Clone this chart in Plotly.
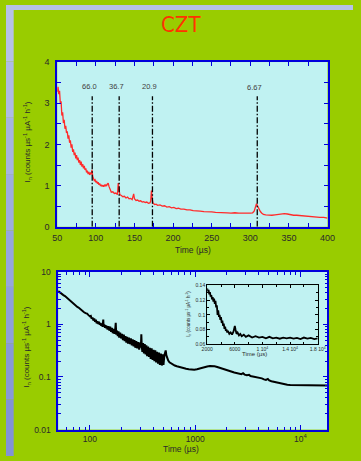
import plotly.graph_objects as go

# ---------------- data ----------------
# top panel (linear): time in us, I_n
top_t = [50, 51, 52, 53, 54, 55, 56, 57, 58, 59, 60, 61, 62, 63, 64, 65, 66, 67, 68, 69,
         70, 71, 72, 73, 74, 75, 76, 77, 78, 79, 80, 81, 82, 83, 84, 85, 86, 87, 88, 89,
         90, 91, 92, 93, 94, 95, 96, 97, 98, 99, 100, 101, 102, 103, 104, 105, 106, 107, 108, 109,
         110, 111, 112, 113, 114, 115, 116, 117, 118, 119, 120, 122, 124, 126, 128, 129, 130, 131, 133, 135,
         137, 139, 141, 143, 145, 147, 149, 150, 152, 154, 156, 158, 160, 162, 164, 166, 168, 170, 171, 172,
         173, 174, 176, 178, 180, 183, 186, 189, 192, 195, 198, 201, 204, 207, 210, 214, 218, 222, 226, 230,
         235, 240, 245, 250, 255, 260, 265, 270, 275, 280, 285, 290, 295, 300, 303, 305, 307, 308, 309, 311,
         313, 315, 317, 320, 324, 328, 332, 336, 340, 344, 348, 352, 356, 360, 365, 370, 375, 380, 385, 390,
         395, 400]
top_v = [3.28, 3.40, 3.22, 3.30, 3.00, 3.05, 2.70, 2.78, 2.52, 2.60, 2.38, 2.45, 2.28, 2.32, 2.14, 2.22, 2.04, 2.10, 1.92, 2.00,
         1.82, 1.88, 1.74, 1.80, 1.66, 1.74, 1.62, 1.68, 1.56, 1.62, 1.50, 1.58, 1.46, 1.52, 1.42, 1.48, 1.38, 1.42, 1.32, 1.36,
         1.28, 1.33, 1.26, 1.30, 1.28, 1.38, 1.22, 1.16, 1.12, 1.14, 1.08, 1.11, 1.05, 1.08, 1.02, 1.05, 0.99, 1.02, 0.98, 1.01,
         0.97, 1.01, 0.99, 1.02, 1.00, 1.04, 1.06, 0.98, 0.92, 0.88, 0.84, 0.85, 0.81, 0.82, 0.78, 1.06, 0.86, 0.78, 0.76, 0.73,
         0.74, 0.70, 0.72, 0.68, 0.69, 0.66, 0.80, 0.68, 0.64, 0.65, 0.62, 0.63, 0.60, 0.61, 0.59, 0.60, 0.57, 0.58, 0.62, 0.88,
         0.68, 0.58, 0.54, 0.55, 0.52, 0.53, 0.50, 0.51, 0.48, 0.49, 0.46, 0.47, 0.44, 0.45, 0.43, 0.43, 0.41, 0.41, 0.39, 0.39,
         0.38, 0.37, 0.37, 0.36, 0.35, 0.35, 0.34, 0.34, 0.33, 0.34, 0.33, 0.33, 0.32, 0.33, 0.34, 0.38, 0.50, 0.56, 0.52, 0.44,
         0.37, 0.33, 0.30, 0.29, 0.28, 0.28, 0.29, 0.30, 0.31, 0.32, 0.31, 0.29, 0.28, 0.28, 0.27, 0.26, 0.25, 0.25, 0.24, 0.23,
         0.23, 0.21]

peak_times = [95.3, 130.2, 173.3, 309.0]
peak_labels = ["66.0", "36.7", "20.9", "6.67"]
peak_line_top = 3.17
peak_label_y = [3.41, 3.41, 3.41, 3.38]

# bottom panel (log-log)
bot_t = [50, 52, 54, 56, 58, 60, 62, 64, 66, 68, 70, 73, 76, 79, 82, 85, 88, 91, 94, 97, 100,
         102, 104, 106, 108, 110, 112, 114, 116, 118, 120, 122, 124, 126, 128, 130, 132, 134, 135, 137, 139,
         141, 143, 145, 147, 150,
         153, 156, 159, 162, 165, 168, 171, 174, 176, 178, 181, 184, 187, 190, 194, 198, 202, 206, 210, 214,
         218, 222, 226, 230, 235, 240, 245, 250, 255, 260, 265, 270, 276, 282, 288, 294, 300, 305, 308, 311,
         315, 320, 326, 332, 338, 344, 350, 357, 364, 371, 378, 386, 394, 402, 410, 418, 426, 435, 444, 453,
         462, 472, 482, 492, 500, 510, 518, 525, 532, 540,
         555, 570, 590, 610, 640, 670, 700, 740, 780, 820, 870, 920, 980, 1040, 1100, 1160, 1230, 1300, 1380, 1450,
         1530, 1620, 1720, 1830, 1950, 2080, 2200, 2350, 2500, 2650, 2750, 2850, 2950, 3100, 3250, 3350, 3500, 3700,
         3900, 4100, 4300, 4500, 4700, 4900, 5050, 5300, 5600, 5900, 6200, 6600, 7000, 7500, 8000, 9000, 10000,
         11000, 12500, 14000, 15500, 17000, 18000]
bot_v = [4.3, 4.0, 3.85, 3.6, 3.45, 3.25, 3.0, 2.8, 2.7, 2.55, 2.45, 2.3, 2.15, 2.05, 1.9, 1.85, 1.7, 1.64, 1.6, 1.5, 1.42,
         1.45, 1.28, 1.35, 1.18, 1.3, 1.12, 1.22, 1.05, 1.15, 1.02, 1.12, 0.98, 1.06, 0.94, 1.04, 0.9, 1.23, 0.92, 1.0, 0.86,
         0.96, 0.84, 0.94, 0.8, 0.92,
         0.76, 0.9, 0.72, 0.86, 0.68, 0.82, 0.66, 0.8, 1.07, 0.64, 0.76, 0.6, 0.74, 0.56, 0.7, 0.54, 0.66, 0.5, 0.64, 0.48,
         0.6, 0.45, 0.58, 0.43, 0.56, 0.42, 0.54, 0.4, 0.52, 0.38, 0.5, 0.36, 0.48, 0.35, 0.46, 0.33, 0.45, 0.36, 0.65, 0.38,
         0.3, 0.44, 0.28, 0.42, 0.27, 0.4, 0.25, 0.38, 0.24, 0.36, 0.22, 0.35, 0.21, 0.33, 0.2, 0.32, 0.19, 0.3, 0.18, 0.29,
         0.17, 0.28, 0.165, 0.27, 0.17, 0.26, 0.28, 0.32, 0.26, 0.23,
         0.205, 0.19, 0.18, 0.172, 0.165, 0.16, 0.155, 0.152, 0.148, 0.143, 0.14, 0.138, 0.137, 0.14, 0.145, 0.15, 0.155, 0.158, 0.161, 0.162,
         0.16, 0.155, 0.15, 0.144, 0.138, 0.132, 0.127, 0.122, 0.118, 0.115, 0.113, 0.118, 0.111, 0.108, 0.11, 0.104, 0.102, 0.1,
         0.1, 0.097, 0.094, 0.09, 0.088, 0.092, 0.086, 0.083, 0.081, 0.078, 0.076, 0.074, 0.072, 0.071, 0.0705, 0.07, 0.0695,
         0.0695, 0.069, 0.069, 0.069, 0.0685, 0.0685]

# inset (linear)
ins_t = [2000, 2100, 2200, 2300, 2400, 2500, 2600, 2700, 2800, 2900, 3000, 3100, 3200, 3300, 3400, 3500, 3600, 3700, 3800, 3900,
         4000, 4100, 4200, 4300, 4400, 4500, 4600, 4700, 4800, 4900, 5000, 5200, 5400, 5600, 5800, 6000, 6100, 6250, 6400, 6600,
         6800, 7000, 7300, 7600, 8000, 8500, 9000, 9500, 10000, 10500, 11000, 11500, 12000, 12500, 13000, 13500, 14000, 14500, 15000, 15500,
         16000, 16500, 17000, 17500, 18000]
ins_v = [0.136, 0.132, 0.134, 0.128, 0.131, 0.125, 0.127, 0.121, 0.124, 0.118, 0.122, 0.115, 0.119, 0.110, 0.113, 0.100, 0.106, 0.097, 0.100, 0.093,
         0.097, 0.089, 0.092, 0.085, 0.088, 0.081, 0.084, 0.078, 0.080, 0.076, 0.078, 0.074, 0.076, 0.073, 0.077, 0.085, 0.080, 0.074, 0.076, 0.072,
         0.074, 0.071, 0.073, 0.070, 0.072, 0.069, 0.071, 0.069, 0.070, 0.068, 0.070, 0.068, 0.069, 0.0675, 0.069, 0.068, 0.069, 0.0675, 0.0685, 0.067,
         0.069, 0.0675, 0.0685, 0.067, 0.068]

top_xticks = [50, 100, 150, 200, 250, 300, 350, 400]
top_yticks = [0, 1, 2, 3, 4]
bot_xticks = [100, 1000, 10000]
bot_xtext = ["100", "1000", "10<sup>4</sup>"]
bot_yticks = [0.01, 0.1, 1, 10]
bot_ytext = ["0.01", "0.1", "1", "10"]
ins_xticks = [2000, 6000, 10000, 14000, 18000]
ins_xtext = ["2000", "6000", "1 10<sup>4</sup>", "1.4 10<sup>4</sup>", "1.8 10<sup>4</sup>"]
ins_yticks = [0.06, 0.08, 0.1, 0.12, 0.14]
ins_ytext = ["0.06", "0.08", "0.1", "0.12", "0.14"]

# ---------------- figure ----------------
W, H = 361, 461
def px_x(p): return p / W
def px_y(p): return 1 - p / H

FONT = "Arial, Liberation Sans, sans-serif"
BLUE = "#0000dd"
TXT = "#2a2a2a"

fig = go.Figure()

fig.add_trace(go.Scatter(x=top_t, y=top_v, mode="lines",
                         line=dict(color="#ff2a2a", width=1.3), xaxis="x", yaxis="y",
                         showlegend=False, hoverinfo="skip"))
for t in peak_times:
    fig.add_trace(go.Scatter(x=[t, t], y=[0, peak_line_top], mode="lines",
                             line=dict(color="black", width=1.3, dash="6px,2px,1.5px,2px"),
                             xaxis="x", yaxis="y", showlegend=False, hoverinfo="skip"))

fig.add_trace(go.Scatter(x=bot_t, y=bot_v, mode="lines",
                         line=dict(color="black", width=2.0), xaxis="x2", yaxis="y2",
                         showlegend=False, hoverinfo="skip"))
fig.add_trace(go.Scatter(x=ins_t, y=ins_v, mode="lines",
                         line=dict(color="black", width=1.8), xaxis="x3", yaxis="y3",
                         showlegend=False, hoverinfo="skip"))

tickfont = dict(family=FONT, size=9, color=TXT)
tickfont_b = dict(family=FONT, size=8.5, color=TXT)

common_main = dict(showline=True, linecolor=BLUE, linewidth=1.6, mirror="ticks",
                   ticks="inside", tickcolor=BLUE, tickwidth=1.3, showgrid=False,
                   zeroline=False)

fig.update_layout(
    width=W, height=H,
    margin=dict(l=0, r=0, t=0, b=0),
    paper_bgcolor="#99cc00",
    plot_bgcolor="#c0f2f2",
    xaxis=dict(domain=[px_x(53.3), px_x(334.5)], anchor="y", range=[50, 400],
               tickmode="array", tickvals=top_xticks, ticklen=4, tickfont=tickfont,
               ticklabelstandoff=2,
               minor=dict(dtick=25, tick0=50, ticks="inside", ticklen=4, tickcolor=BLUE, tickwidth=1.3),
               **common_main),
    yaxis=dict(domain=[px_y(226.7), px_y(58.3)], anchor="x", range=[0, 4],
               tickmode="array", tickvals=top_yticks, ticklen=4, tickfont=tickfont,
               ticklabelstandoff=4,
               minor=dict(dtick=0.5, tick0=0, ticks="inside", ticklen=4, tickcolor=BLUE, tickwidth=1.3),
               **common_main),
    xaxis2=dict(domain=[px_x(54.3), px_x(334.3)], anchor="y2", type="log",
                range=[1.699, 4.2553], tickmode="array", tickvals=bot_xticks, ticktext=bot_xtext,
                ticklen=5, tickfont=tickfont_b,
                minor=dict(tickmode="array",
                           tickvals=[60, 70, 80, 90, 200, 300, 400, 500, 600, 700, 800, 900,
                                     2000, 3000, 4000, 5000, 6000, 7000, 8000, 9000],
                           ticks="inside", ticklen=3, tickcolor=BLUE, tickwidth=1.2),
                **common_main),
    yaxis2=dict(domain=[px_y(434), px_y(272.7)], anchor="x2", type="log",
                range=[-2, 1], tickmode="array", tickvals=bot_yticks, ticktext=bot_ytext,
                ticklen=5, tickfont=tickfont_b, ticklabelstandoff=4,
                minor=dict(tickmode="array",
                           tickvals=[k * d for d in (0.01, 0.1, 1) for k in range(2, 10)],
                           ticks="inside", ticklen=3, tickcolor=BLUE, tickwidth=1.2),
                **common_main),
    xaxis3=dict(domain=[px_x(209.3), px_x(324.3)], anchor="y3", range=[2000, 18000],
                tickmode="array", tickvals=ins_xticks, ticktext=ins_xtext,
                showline=True, linecolor="black", linewidth=1, mirror="ticks",
                ticks="inside", ticklen=2.5, tickcolor="black", tickwidth=1,
                minor=dict(dtick=2000, tick0=2000, ticks="inside", ticklen=2, tickcolor="black"),
                showgrid=False, zeroline=False,
                tickfont=dict(family=FONT, size=5, color=TXT)),
    yaxis3=dict(domain=[px_y(346.7), px_y(286.7)], anchor="x3", range=[0.06, 0.14],
                tickmode="array", tickvals=ins_yticks, ticktext=ins_ytext,
                showline=True, linecolor="black", linewidth=1, mirror="ticks",
                ticks="inside", ticklen=2.5, tickcolor="black", tickwidth=1,
                minor=dict(dtick=0.01, tick0=0.06, ticks="inside", ticklen=1.5, tickcolor="black"),
                showgrid=False, zeroline=False,
                tickfont=dict(family=FONT, size=5, color=TXT)),
)

shapes = []
# left / top lavender border strips (banded gradient)
strip_cols = ["#b6c1e8", "#aebbe5", "#a6b4e2", "#9eaddf", "#96a6dc", "#8fa0da", "#8899d7", "#8293d5"]
n = len(strip_cols)
for i, c in enumerate(strip_cols):
    shapes.append(dict(type="rect", xref="paper", yref="paper", x0=0, x1=px_x(8),
                       y0=1 - (i + 1) / n, y1=1 - i / n, fillcolor=c, line=dict(width=0), layer="below"))
shapes.append(dict(type="rect", xref="paper", yref="paper", x0=0, x1=1,
                   y0=px_y(5), y1=1, fillcolor="#b6c1e8", line=dict(width=0), layer="below"))
# inset background
shapes.append(dict(type="rect", xref="x3 domain", yref="y3 domain", x0=0, x1=1, y0=0, y1=1,
                   fillcolor="#abf9c6", line=dict(width=0), layer="below"))
fig.update_layout(shapes=shapes)

ann = []
ann.append(dict(text="CZT", xref="paper", yref="paper", x=px_x(182), y=px_y(20),
                showarrow=False, xanchor="center", yanchor="middle",
                font=dict(family="Liberation Sans Narrow, Arial Narrow, DejaVu Sans Condensed", size=22, color="#ff3300")))
for t, lab, ly in zip(peak_times, peak_labels, peak_label_y):
    ann.append(dict(text=lab, xref="x", yref="y", x=t, y=ly, xshift=-2.5, showarrow=False,
                    xanchor="center", yanchor="middle",
                    font=dict(family=FONT, size=7.5, color="#404040")))
ytitle = "I<sub>n</sub> (counts µs<sup>-1</sup> µA<sup>-1</sup> h<sup>-1</sup>)"
ann.append(dict(text=ytitle, xref="paper", yref="paper", x=px_x(22.5), y=px_y(140),
                textangle=-90, showarrow=False, xanchor="center", yanchor="middle",
                font=dict(family=FONT, size=8, color=TXT)))
ann.append(dict(text="Time (µs)", xref="paper", yref="paper", x=px_x(195), y=px_y(250),
                showarrow=False, xanchor="center", yanchor="middle",
                font=dict(family=FONT, size=8.5, color=TXT)))
ann.append(dict(text=ytitle, xref="paper", yref="paper", x=px_x(21), y=px_y(350),
                textangle=-90, showarrow=False, xanchor="center", yanchor="middle",
                font=dict(family=FONT, size=8, color=TXT)))
ann.append(dict(text="Time (µs)", xref="paper", yref="paper", x=px_x(182), y=px_y(454),
                showarrow=False, xanchor="center", yanchor="middle",
                font=dict(family=FONT, size=8.5, color=TXT)))
ann.append(dict(text=ytitle, xref="paper", yref="paper", x=px_x(190), y=px_y(316),
                textangle=-90, showarrow=False, xanchor="center", yanchor="middle",
                font=dict(family=FONT, size=4.5, color=TXT)))
ann.append(dict(text="Time (µs)", xref="paper", yref="paper", x=px_x(259), y=px_y(357),
                showarrow=False, xanchor="center", yanchor="middle",
                font=dict(family=FONT, size=6, color=TXT)))
fig.update_layout(annotations=ann)

fig.write_html("out.html", config={"displayModeBar": False},
               post_script="document.body.style.margin='0';document.body.style.overflow='hidden';")
